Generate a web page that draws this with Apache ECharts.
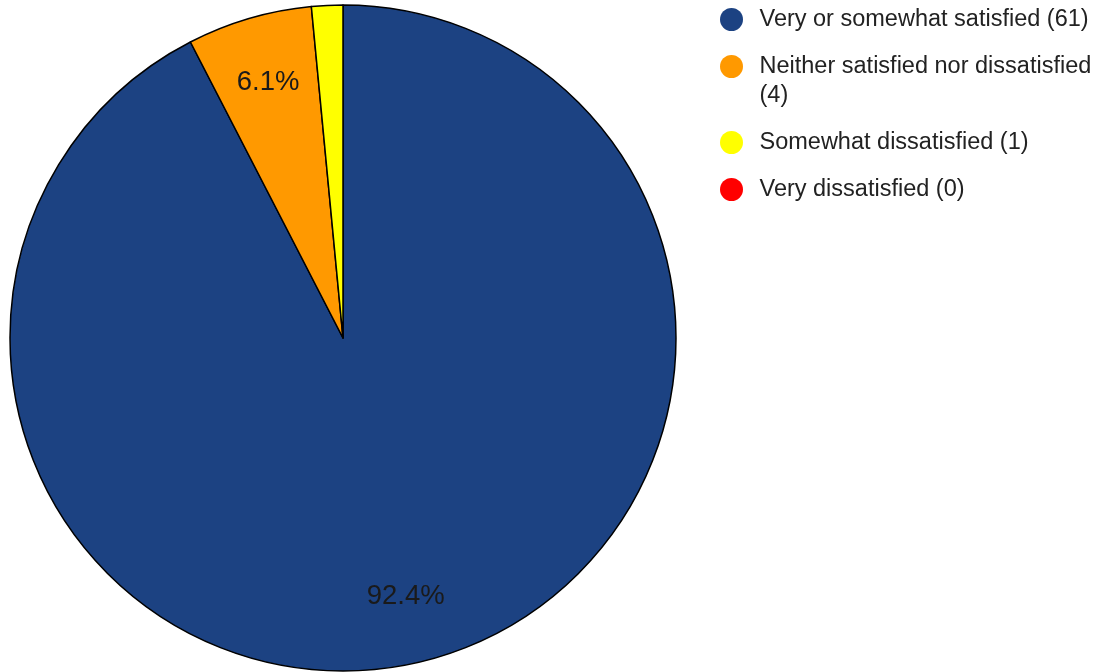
<!DOCTYPE html>
<html>
<head>
<meta charset="utf-8">
<script src="https://cdn.jsdelivr.net/npm/echarts@6/dist/echarts.min.js"></script>
<style>
html,body{margin:0;padding:0;background:#fff;}
#chart{width:1113px;height:672px;}
</style>
</head>
<body>
<div id="chart"></div>
<script>
const categories = ['Very or somewhat satisfied', 'Neither satisfied nor dissatisfied', 'Somewhat dissatisfied', 'Very dissatisfied'];
const counts = [61, 4, 1, 0];
const colors = ['#1c4282', '#ff9900', '#ffff00', '#ff0000'];
const legendTops = [5, 23, 128, 175];

const chart = echarts.init(document.getElementById('chart'));
const data = categories.map((c, i) => ({
  name: c,
  value: counts[i],
  itemStyle: { color: colors[i], borderWidth: counts[i] === 0 ? 0 : 1.5 }
}));

const legendLabel = {
  'Neither satisfied nor dissatisfied': '\nNeither satisfied nor dissatisfied\n'
};

const legends = categories.map((c, i) => ({
  data: [c],
  orient: 'vertical',
  left: 720,
  top: legendTops[i],
  padding: 0,
  itemWidth: 24,
  itemHeight: 23,
  itemGap: 0,
  icon: 'circle',
  selectedMode: false,
  itemStyle: { borderWidth: 0 },
  formatter: function (name) {
    const idx = categories.indexOf(name);
    const base = (legendLabel[name] || name);
    return base + (legendLabel[name] ? '' : ' ') + '(' + counts[idx] + ')';
  },
  textStyle: { fontFamily: 'Liberation Sans, Arial', fontSize: 23.5, color: '#222', lineHeight: 29, padding: [0, 0, 0, 11] }
}));

chart.setOption({
  animation: false,
  legend: legends,
  series: [
    {
      type: 'pie',
      center: [343, 338],
      radius: [0, 333],
      startAngle: 90,
      clockwise: true,
      silent: true,
      label: { show: false },
      labelLine: { show: false },
      itemStyle: { borderColor: '#000', borderWidth: 1.5 },
      data: data
    },
    {
      type: 'pie',
      center: [343, 338],
      radius: [193, 333],
      startAngle: 90,
      clockwise: true,
      silent: true,
      percentPrecision: 1,
      legendHoverLink: false,
      itemStyle: { color: 'rgba(0,0,0,0)', borderWidth: 0 },
      labelLine: { show: false },
      label: {
        show: true,
        position: 'inside',
        fontFamily: 'Liberation Sans, Arial',
        fontSize: 27.5,
        color: '#1a1a1a',
        formatter: function (p) { return p.percent >= 5 ? p.percent.toFixed(1) + '%' : ''; }
      },
      data: categories.map((c, i) => ({ name: c, value: counts[i] }))
    }
  ]
});
</script>
</body>
</html>
